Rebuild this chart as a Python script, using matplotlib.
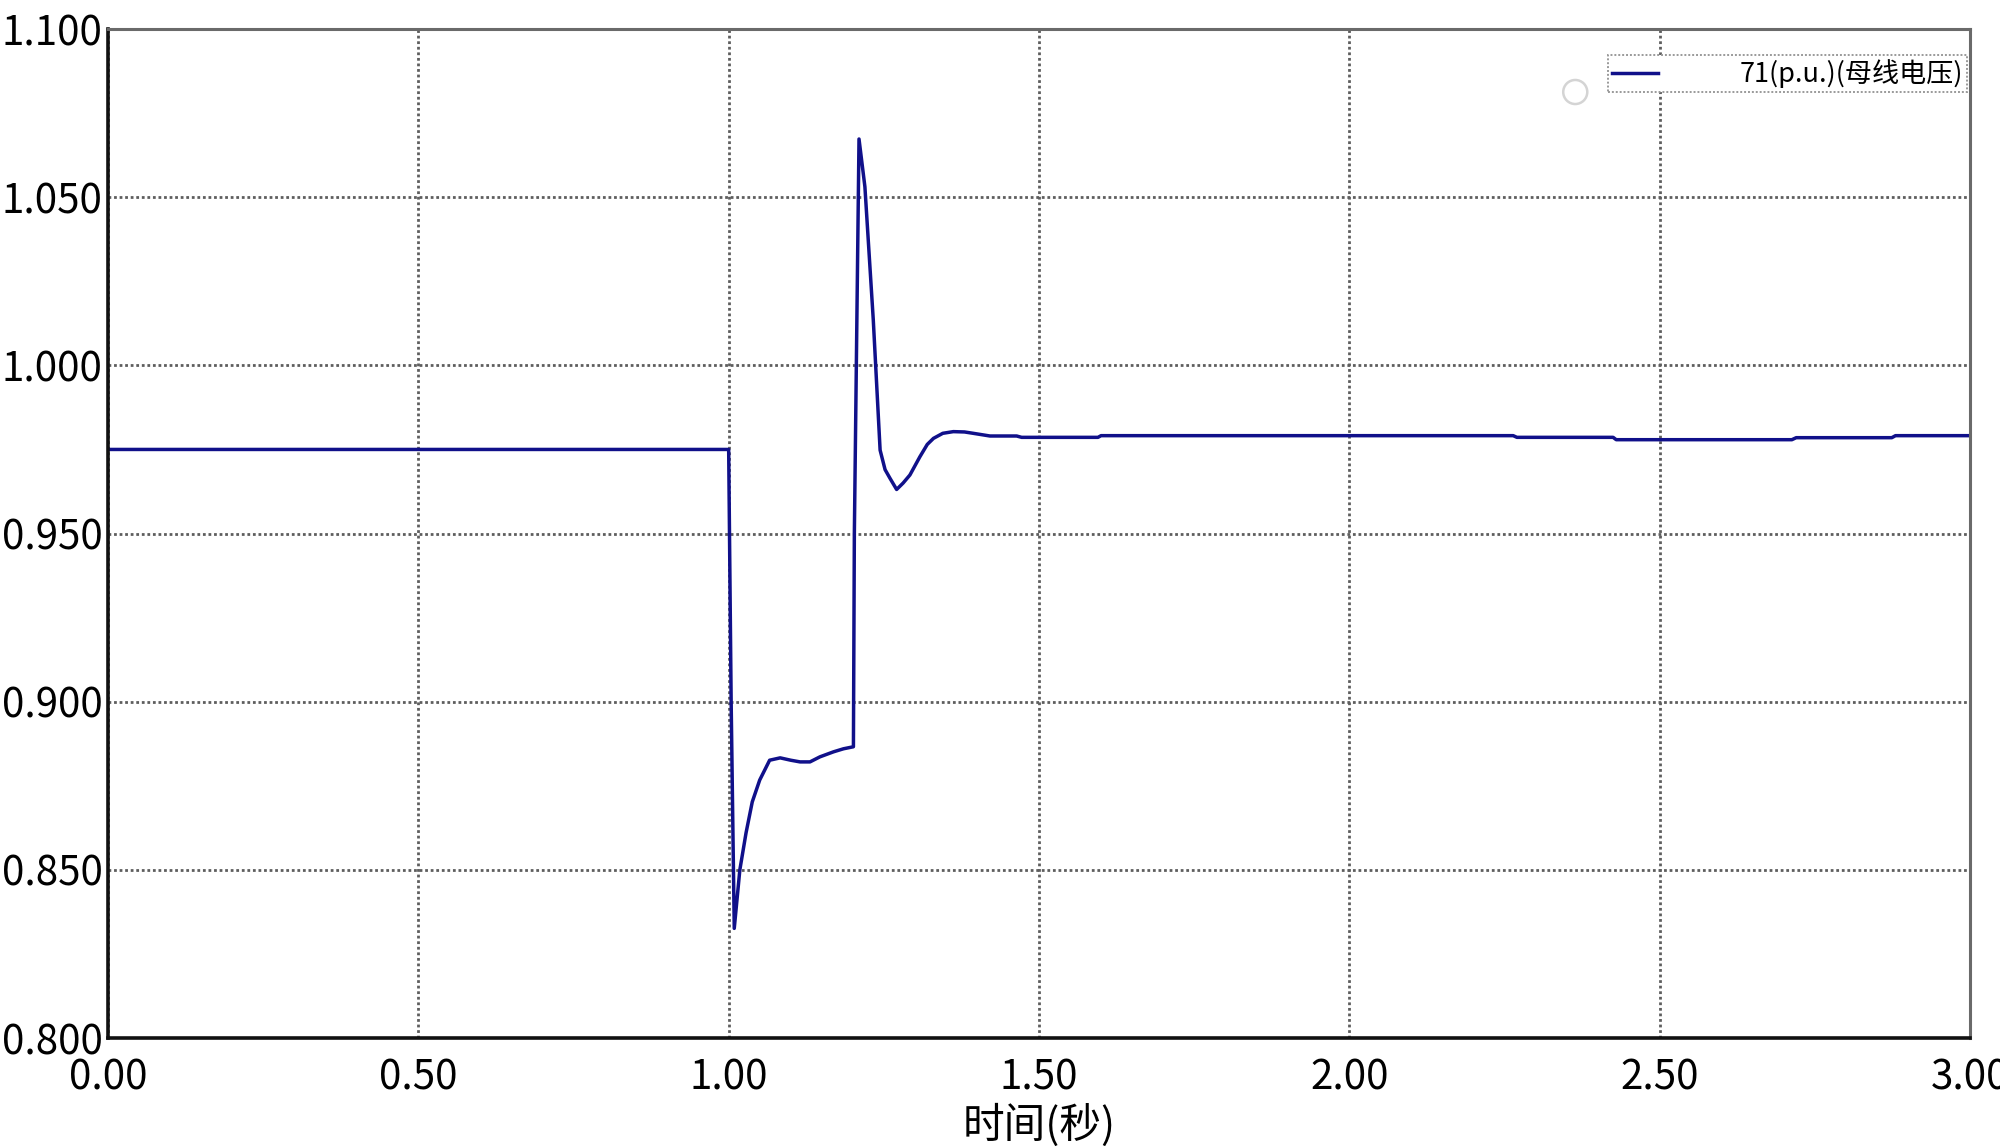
import matplotlib
matplotlib.use("Agg")
import matplotlib.pyplot as plt

plt.rcParams['font.family'] = ['Noto Sans CJK SC', 'DejaVu Sans']

# ---- data ----
time_s = [0.0, 1.0, 1.004, 1.009, 1.018, 1.028, 1.038, 1.050, 1.066, 1.083, 1.100,
          1.115, 1.131, 1.147, 1.169, 1.185, 1.201, 1.2025, 1.210, 1.2195, 1.233,
          1.244, 1.252, 1.260, 1.2706, 1.281, 1.292, 1.308, 1.320, 1.330, 1.345,
          1.362, 1.380, 1.394, 1.421, 1.464, 1.472, 1.595, 1.600, 2.264, 2.270,
          2.425, 2.430, 2.713, 2.720, 2.874, 2.880, 3.0]
voltage_pu = [0.975, 0.975, 0.900, 0.8326, 0.850, 0.861, 0.8702, 0.8767, 0.8826, 0.8833, 0.8826,
              0.8821, 0.8821, 0.8836, 0.8851, 0.8860, 0.8866, 0.950, 1.0673, 1.0531, 1.0135,
              0.9748, 0.9690, 0.9664, 0.9631, 0.9650, 0.9674, 0.9728, 0.9765, 0.9783, 0.9798,
              0.9803, 0.9802, 0.9798, 0.9790, 0.9790, 0.9786, 0.9786, 0.9791, 0.9791, 0.9786,
              0.9786, 0.9779, 0.9779, 0.9785, 0.9785, 0.9791, 0.9791]

series_label = "71(p.u.)(母线电压)"
x_label = "时间(秒)"
x_ticks = [0.0, 0.5, 1.0, 1.5, 2.0, 2.5, 3.0]
x_tick_labels = ["0.00", "0.50", "1.00", "1.50", "2.00", "2.50", "3.00"]
y_ticks = [0.80, 0.85, 0.90, 0.95, 1.00, 1.05, 1.10]
y_tick_labels = ["0.800", "0.850", "0.900", "0.950", "1.000", "1.050", "1.100"]

# ---- figure ----
fig = plt.figure(figsize=(20, 11.48), dpi=100)
ax = fig.add_axes([0.054, 0.0958, 0.931, 0.8789])

ax.plot(time_s, voltage_pu, color="#10108a", linewidth=2.5, label=series_label,
        solid_joinstyle="round")

ax.set_xlim(0, 3.0)
ax.set_ylim(0.80, 1.10)
ax.set_xticks(x_ticks)
ax.set_xticklabels(x_tick_labels)
ax.set_yticks(y_ticks)
ax.set_yticklabels(y_tick_labels)
ax.tick_params(axis="both", length=0, labelsize=29, colors="black")
ax.tick_params(axis="x", pad=14)
ax.tick_params(axis="y", pad=4)

ax.grid(True, color="#5e5e5e", linestyle=(0, (1, 1)), linewidth=2.0)
ax.set_axisbelow(True)

for side in ("left", "bottom"):
    ax.spines[side].set_color("#111111")
    ax.spines[side].set_linewidth(2.6)
for side in ("top", "right"):
    ax.spines[side].set_color("#6a6a6a")
    ax.spines[side].set_linewidth(2.2)

ax.set_xlabel(x_label, fontsize=30, labelpad=4)

leg = ax.legend(loc="upper right", bbox_to_anchor=(0.9985, 0.974),
                fontsize=19.5, frameon=True, fancybox=False, borderaxespad=0,
                handlelength=1.7, handletextpad=3.0, borderpad=0.15)
frame = leg.get_frame()
frame.set_edgecolor("#9a9a9a")
frame.set_linestyle((0, (1, 1)))
frame.set_linewidth(1.4)
frame.set_facecolor("white")
frame.set_alpha(1.0)

# faint circle artefact next to the legend
ax.scatter([0.788], [0.9376], transform=ax.transAxes, s=300, facecolors="none",
           edgecolors="#d4d4d4", linewidths=1.8, clip_on=False, zorder=5)

fig.savefig("out.png", dpi=100)
